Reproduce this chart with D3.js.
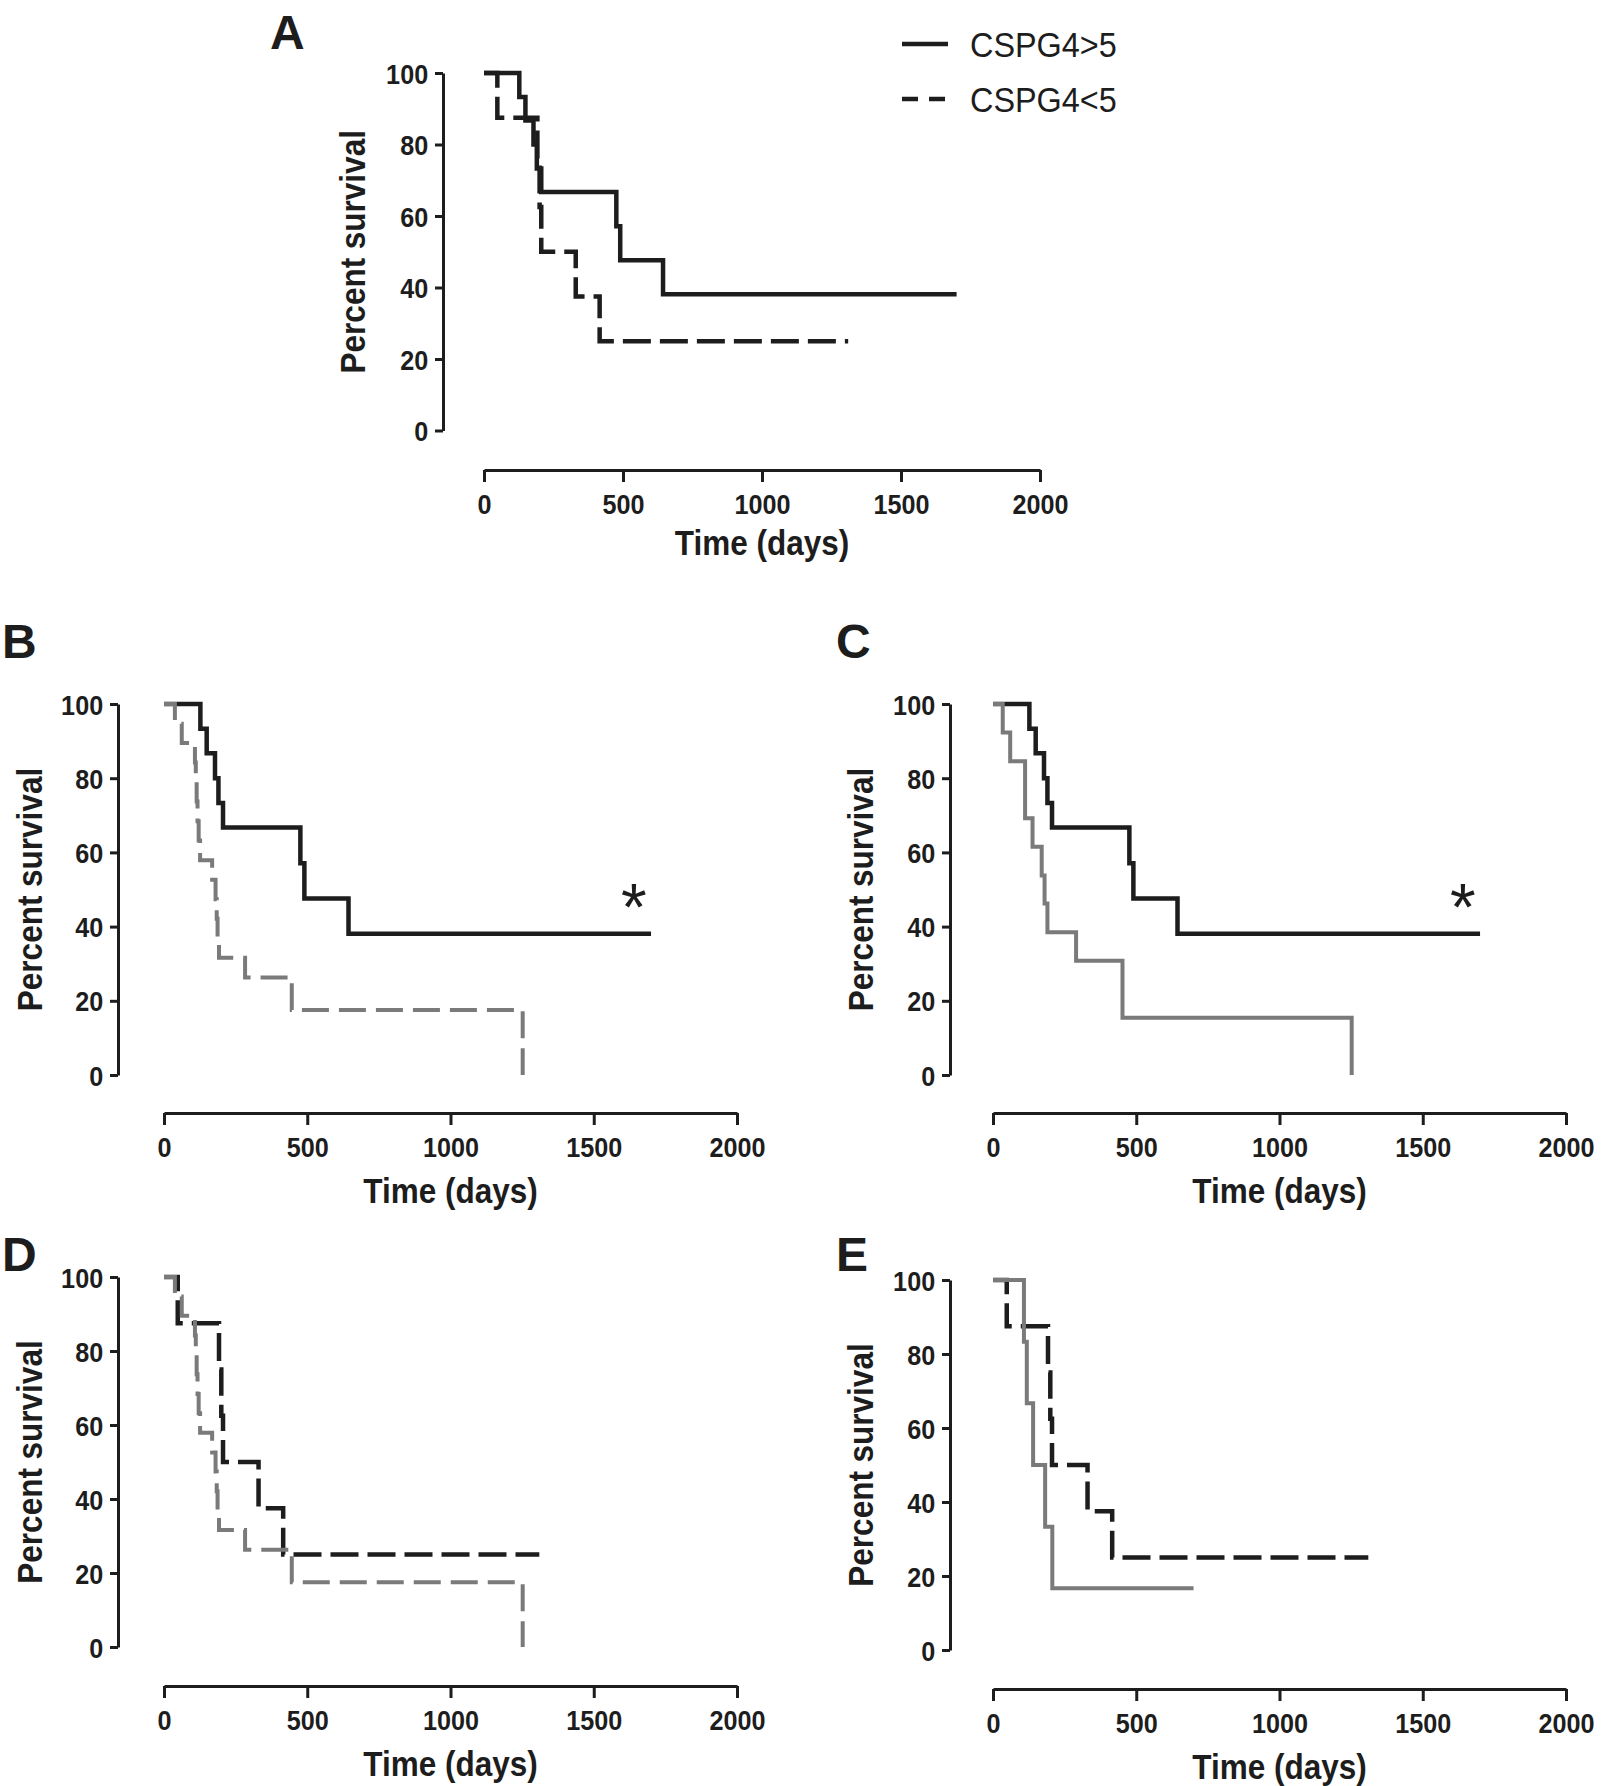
<!DOCTYPE html>
<html>
<head>
<meta charset="utf-8">
<script src="https://cdn.jsdelivr.net/npm/d3@7"></script>
<style>
  html, body { margin: 0; padding: 0; background: #fff; }
  svg { display: block; }
  .tick text { font-family: "Liberation Sans", Arial, sans-serif; font-weight: 700; font-size: 28px; fill: #1d1d1d; }
</style>
</head>
<body>
<svg id="chart" width="1601" height="1786"></svg>
<script>
// ---------- DATA ----------
const timeTicks = [0, 500, 1000, 1500, 2000];
const survTicks = [0, 20, 40, 60, 80, 100];
const legendLabels = ["CSPG4>5", "CSPG4<5"];
const panelLetters = ["A", "B", "C", "D", "E"];
const xTitle = "Time (days)";
const yTitle = "Percent survival";

// CSPG4>5 (solid black)
const highTime = [0, 127, 149, 178, 190, 206, 476, 490, 644, 1700];
const highSurv = [100, 93.3, 86.7, 80, 73.3, 66.7, 57.1, 47.6, 38.1, 38.1];

// CSPG4<5 (dashed black)
const lowTime = [0, 48, 192, 200, 206, 330, 416, 1310];
const lowSurv = [100, 87.5, 75, 62.5, 50, 37.5, 25, 25];

// grey dashed group (panels B, D)
const greyDashTime = [0, 38, 62, 108, 111, 114, 117, 121, 126, 168, 180, 184, 187, 192, 283, 446, 1252];
const greyDashSurv = [100, 94.7, 89.5, 84.2, 78.9, 73.7, 68.4, 63.2, 57.9, 52.6, 47.4, 42.1, 36.8, 31.6, 26.3, 17.5, 0];

// grey solid group (panel C)
const greySolidTime = [0, 34, 60, 112, 138, 170, 180, 190, 290, 452, 1252];
const greySolidSurv = [100, 92.3, 84.6, 69.2, 61.5, 53.8, 46.2, 38.5, 30.8, 15.4, 0];

// grey solid group (panel E)
const greySmallTime = [0, 108, 118, 140, 182, 207, 700];
const greySmallSurv = [100, 83.3, 66.7, 50, 33.3, 16.7, 16.7];

// ---------- STYLE / LAYOUT ----------
const BLACK = "#1d1d1d", GREY = "#7a7a7a";
const styles = {
  high: { color: BLACK, width: 4.5, dash: null },
  low: { color: BLACK, width: 4.5, dash: "28,9" },
  greyDash: { color: GREY, width: 4, dash: "27,10" },
  greySolid: { color: GREY, width: 4, dash: null }
};
const series = {
  high: { t: highTime, s: highSurv, style: "high" },
  low: { t: lowTime, s: lowSurv, style: "low" },
  greyDash: { t: greyDashTime, s: greyDashSurv, style: "greyDash" },
  greySolid: { t: greySolidTime, s: greySolidSurv, style: "greySolid" },
  greySmall: { t: greySmallTime, s: greySmallSurv, style: "greySolid" }
};

const panels = [
  { letter: 0, lx: 270, ly: 49, yAxisX: 443, y100: 73, y0: 430.5, xAxisY: 470, x0: 484, x2000: 1040, ylabX: 352, titleOff: 72, lines: ["high", "low"] },
  { letter: 1, lx: 2, ly: 658, yAxisX: 118, y100: 704, y0: 1075, xAxisY: 1113, x0: 164, x2000: 737, ylabX: 29, titleOff: 77, lines: ["high", "greyDash"], star: true },
  { letter: 2, lx: 836, ly: 658, yAxisX: 950, y100: 704, y0: 1075, xAxisY: 1113, x0: 993, x2000: 1566, ylabX: 860, titleOff: 77, lines: ["high", "greySolid"], star: true },
  { letter: 3, lx: 2, ly: 1271, yAxisX: 118, y100: 1277, y0: 1647, xAxisY: 1686, x0: 164, x2000: 737, ylabX: 29, titleOff: 77, lines: ["low", "greyDash"] },
  { letter: 4, lx: 836, ly: 1271, yAxisX: 950, y100: 1280, y0: 1650, xAxisY: 1689, x0: 993, x2000: 1566, ylabX: 860, titleOff: 77, lines: ["low", "greySmall"] }
];

const svg = d3.select("#chart");
svg.append("rect").attr("width", 1601).attr("height", 1786).attr("fill", "#fff");

panels.forEach(p => {
  const g = svg.append("g");
  const x = d3.scaleLinear().domain([0, 2000]).range([p.x0, p.x2000]);
  const y = d3.scaleLinear().domain([0, 100]).range([p.y0, p.y100]);

  // panel letter
  g.append("text").attr("x", p.lx).attr("y", p.ly)
    .attr("font-family", "'Liberation Sans', Arial, sans-serif")
    .attr("font-weight", 700).attr("font-size", 48).attr("fill", "#1d1d1d")
    .text(panelLetters[p.letter]);

  // y axis
  const ya = g.append("g").attr("transform", `translate(${p.yAxisX},0)`)
    .call(d3.axisLeft(y).tickValues(survTicks).tickSize(8).tickSizeOuter(0).tickFormat(d3.format("d")));
  ya.select(".domain").attr("stroke", "#1d1d1d").attr("stroke-width", 3);
  ya.selectAll(".tick line").attr("stroke", "#1d1d1d").attr("stroke-width", 3);
  ya.selectAll(".tick text").attr("x", -16.5).attr("dy", "0.36em").attr("transform", "scale(0.9,1)");

  // x axis
  const xa = g.append("g").attr("transform", `translate(0,${p.xAxisY})`)
    .call(d3.axisBottom(x).tickValues(timeTicks).tickSize(12).tickSizeOuter(0).tickFormat(d3.format("d")));
  xa.select(".domain").attr("stroke", "#1d1d1d").attr("stroke-width", 3);
  xa.selectAll(".tick line").attr("stroke", "#1d1d1d").attr("stroke-width", 3);
  xa.selectAll(".tick text").attr("y", 34).attr("dy", "0.36em").attr("transform", "scale(0.9,1)");

  // axis titles
  g.append("text")
    .attr("transform", `translate(${(p.x0 + p.x2000) / 2},${p.xAxisY + p.titleOff}) scale(0.9,1)`)
    .attr("text-anchor", "middle").attr("dy", "0.36em")
    .attr("font-family", "'Liberation Sans', Arial, sans-serif")
    .attr("font-weight", 700).attr("font-size", 35).attr("fill", "#1d1d1d")
    .text(xTitle);
  g.append("text")
    .attr("transform", `translate(${p.ylabX},${(p.y0 + p.y100) / 2}) rotate(-90) scale(0.9,1)`)
    .attr("text-anchor", "middle").attr("dy", "0.36em")
    .attr("font-family", "'Liberation Sans', Arial, sans-serif")
    .attr("font-weight", 700).attr("font-size", 35).attr("fill", "#1d1d1d")
    .text(yTitle);

  // curves (black first, grey on top)
  const line = d3.line().x(d => x(d[0])).y(d => y(d[1])).curve(d3.curveStepAfter);
  p.lines.forEach(key => {
    const sr = series[key];
    const st = styles[sr.style];
    const pts = sr.t.map((t, i) => [t, sr.s[i]]);
    g.append("path").datum(pts).attr("d", line)
      .attr("fill", "none").attr("stroke", st.color).attr("stroke-width", st.width)
      .attr("stroke-dasharray", st.dash).attr("stroke-linejoin", "miter").attr("stroke-linecap", "butt");
  });

  if (p.star) {
    g.append("text").attr("x", x(1640)).attr("y", y(38.1) - 4)
      .attr("text-anchor", "middle")
      .attr("font-family", "'Liberation Sans', Arial, sans-serif")
      .attr("font-size", 66).attr("fill", "#1d1d1d").text("*");
  }
});

// legend (panel A)
const leg = svg.append("g");
legendLabels.forEach((lab, i) => {
  const st = i === 0 ? styles.high : styles.low;
  const yy = 44 + i * 55;
  leg.append("line").attr("x1", 902).attr("x2", 948).attr("y1", yy).attr("y2", yy)
    .attr("stroke", st.color).attr("stroke-width", 4.5)
    .attr("stroke-dasharray", i === 0 ? null : "16,11");
  leg.append("text").attr("transform", `translate(970,${yy}) scale(0.9,1)`).attr("dy", "0.36em")
    .attr("font-family", "'Liberation Sans', Arial, sans-serif")
    .attr("font-size", 36).attr("fill", "#1d1d1d").text(lab);
});
</script>
</body>
</html>
